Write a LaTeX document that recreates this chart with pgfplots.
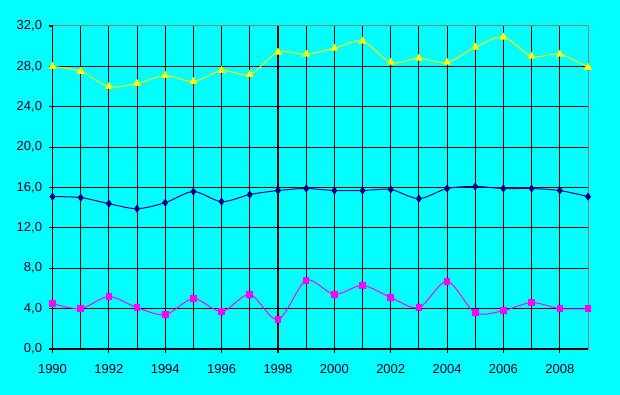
\documentclass[border=0pt]{standalone}
\usepackage{pgfplots}
\pgfplotsset{compat=1.18}
\usepackage{fontspec}
\setmainfont{Liberation Sans}
\definecolor{bgc}{HTML}{00FFFF}
\definecolor{ylw}{HTML}{FFFF00}
\definecolor{nvy}{HTML}{000080}
\definecolor{mgt}{HTML}{FF00FF}
\definecolor{frm}{HTML}{908080}
\begin{document}
\begin{tikzpicture}
\fill[bgc] (-52.5bp,-46bp) rectangle (567.5bp,349bp);
\begin{axis}[
  at={(0,0)}, anchor=south west,
  scale only axis, width=535.5bp, height=323bp,
  xmin=1990, xmax=2009, ymin=0, ymax=32,
  axis line style={draw=none},
  axis background/.style={fill=bgc, draw=frm, line width=1bp},
  xtick={1990,1992,...,2008},
  minor xtick={1991,1993,...,2007},
  ytick={0,4,...,28},
  extra y ticks={32}, extra y tick style={grid=none},
  grid=both,
  major grid style={black, line width=1.1bp},
  minor grid style={black, line width=1.1bp},
  tick align=outside, xtick pos=left, ytick pos=left,
  major tick length=4bp, minor tick length=0bp,
  tick style={black, line width=1.1bp},
  x tick label style={/pgf/number format/1000 sep={}, font=\fontsize{13bp}{15bp}\selectfont, yshift=-8bp},
  y tick label style={/pgf/number format/.cd, fixed, fixed zerofill, precision=1, use comma, /tikz/.cd, font=\fontsize{13bp}{15bp}\selectfont, xshift=-3bp},
  xticklabel={\pgfmathprintnumber[1000 sep={}]{\tick}},
  /pgf/number format/assume math mode=true,
  tick label style={text=black!85!blue},
]
\addplot[ylw, line width=1bp, smooth, tension=0.5, mark=triangle*, mark size=3.8bp, mark options={fill=ylw, draw=ylw}] coordinates {
(1990,28.0)(1991,27.5)(1992,26.0)(1993,26.3)(1994,27.1)(1995,26.5)(1996,27.6)(1997,27.2)(1998,29.4)(1999,29.2)
(2000,29.8)(2001,30.5)(2002,28.4)(2003,28.8)(2004,28.4)(2005,29.9)(2006,30.9)(2007,29.0)(2008,29.2)(2009,27.9)};
\addplot[nvy, line width=1bp, smooth, tension=0.5, mark=diamond*, mark size=3.2bp, mark options={fill=nvy, draw=nvy}] coordinates {
(1990,15.1)(1991,15.0)(1992,14.4)(1993,13.9)(1994,14.5)(1995,15.6)(1996,14.6)(1997,15.3)(1998,15.7)(1999,15.9)
(2000,15.7)(2001,15.7)(2002,15.8)(2003,14.9)(2004,15.9)(2005,16.1)(2006,15.9)(2007,15.9)(2008,15.7)(2009,15.1)};
\addplot[mgt, line width=1bp, smooth, tension=0.5, mark=square*, mark size=2.8bp, mark options={fill=mgt, draw=mgt}] coordinates {
(1990,4.5)(1991,4.0)(1992,5.2)(1993,4.1)(1994,3.4)(1995,5.0)(1996,3.7)(1997,5.4)(1998,2.9)(1999,6.8)
(2000,5.4)(2001,6.3)(2002,5.1)(2003,4.1)(2004,6.7)(2005,3.6)(2006,3.8)(2007,4.6)(2008,4.0)(2009,4.0)};
\end{axis}
\pgfresetboundingbox
\path[use as bounding box] (-52.5bp,-46bp) rectangle (567.5bp,349bp);
\end{tikzpicture}
\end{document}
